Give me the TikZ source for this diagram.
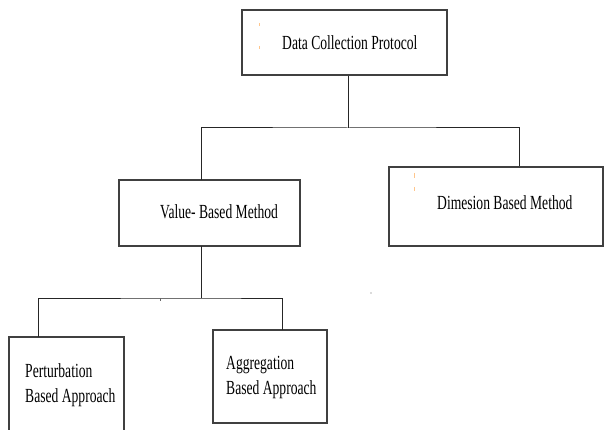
\documentclass[tikz,border=0pt]{standalone}
\usepackage{fontspec}
\setmainfont{Liberation Serif}
\newcommand{\sqz}[1]{\scalebox{0.68}[1]{#1}}
\begin{document}
\begin{tikzpicture}[x=1pt,y=-1pt,
  box/.style={draw=black!75, line width=1.3pt, rectangle, inner sep=0pt},
  conn/.style={draw=black!85, line width=1pt},
  lbl/.style={anchor=base west, inner sep=0pt, font=\fontsize{20}{25}\selectfont},
  speck/.style={draw=orange!45, line width=0.8pt}]
\path[use as bounding box] (0,0) rectangle (604,430);
\fill[white] (0,0) rectangle (604,430);
\clip (0,0) rectangle (604,430);
% boxes
\node[box, minimum width=205pt, minimum height=65pt] (top) at (344.5,42.5) {};
\node[box, minimum width=181pt, minimum height=66pt] (val) at (209.5,213) {};
\node[box, minimum width=214pt, minimum height=79pt] (dim) at (496,206.5) {};
\node[box, minimum width=115pt, minimum height=110pt] (pert) at (66.5,392) {};
\node[box, minimum width=114pt, minimum height=93pt] (agg) at (270,376.5) {};
% labels
\node[lbl] (ttop) at (282,49.3) {\sqz{Data Collection Protocol}};
\node[lbl] (tval) at (160,218.3) {\sqz{Value- Based Method}};
\node[lbl] (tdim) at (437,209.3) {\sqz{Dimesion Based Method}};
\node[lbl] (tpert) at (25,377) {\sqz{\begin{tabular}[t]{@{}l@{}}Perturbation\\Based Approach\end{tabular}}};
\node[lbl] (tagg) at (226,369) {\sqz{\begin{tabular}[t]{@{}l@{}}Aggregation\\Based Approach\end{tabular}}};
% attach points
\coordinate (j1) at (348,128);
\coordinate (vtop) at (201,180);
\coordinate (vbot) at (201,246);
\coordinate (j2) at (201,298);
\coordinate (ptop) at (38,337);
\coordinate (atop) at (282,330);
% connectors
\draw[conn] (top.south -| j1) -- (j1);
\draw[conn] (vtop) |- (j1) -| (dim.north -| 519,0);
\draw[conn] (vbot) -- (j2);
\draw[conn] (ptop) |- (j2) -| (atop);
% small specks
\draw[speck] (259,23) -- (259,26);
\draw[speck] (259,46) -- (259,49);
\draw[speck] (414,173) -- (414,178);
\draw[speck] (414,187) -- (414,191);
\draw[black!60, line width=0.6pt] (160,298) -- (160,301);
\fill[black!60] (371,293) circle (0.6pt);
\end{tikzpicture}
\end{document}
